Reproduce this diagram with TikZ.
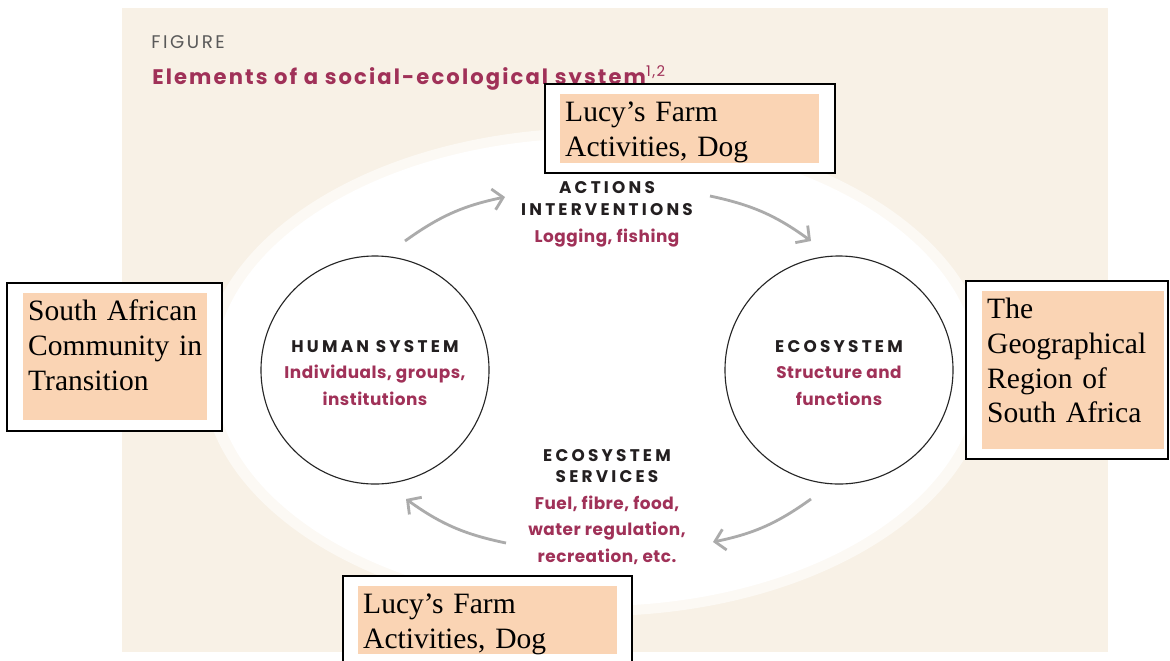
\documentclass[tikz,border=0pt]{standalone}
\usepackage{fontspec}
\setmainfont{Liberation Serif}
\newfontfamily\labelfont[LetterSpace=3]{Poppins}
\newfontfamily\capsfont[LetterSpace=19]{Poppins}
\newfontfamily\titlefont[LetterSpace=10]{Poppins}
\newfontfamily\tagfont[LetterSpace=14]{Poppins}
\usetikzlibrary{arrows.meta,positioning}

\definecolor{paper}{HTML}{F8F1E6}
\definecolor{wine}{HTML}{A03158}
\definecolor{ink}{HTML}{231F20}
\definecolor{peach}{HTML}{FAD4B4}
\definecolor{flowgray}{HTML}{ABABAB}

\newcommand{\cyclehead}[1]{\textcolor{ink}{\capsfont #1}}

\begin{document}
\begin{tikzpicture}[x=0.025cm, y=-0.025cm,
  system/.style={draw=black!85, circle, line width=0.8pt, minimum size=5.7cm},
  cycletext/.style={anchor=base, align=center, text=wine, font=\labelfont\bfseries\fontsize{12}{18.5}\selectfont},
  note/.style={fill=peach, anchor=north west, align=left, inner xsep=3.5pt, inner ysep=0pt, text height=19.2pt, font=\fontsize{21}{24.8}\selectfont},
  noteframe/.style={draw=black, fill=white, line width=1.4pt},
  flow/.style={draw=flowgray, line width=2pt, -{Straight Barb[length=7pt, width=15pt]}, bend left=12}]

  \clip (0,0) rectangle (1170,660);

  % Background
  \fill[paper] (122,8) rectangle (1108,652);
  \fill[white!55!paper] (596,372) ellipse [x radius=9.85cm, y radius=6.1cm];
  \fill[white] (596,372) ellipse [x radius=9.55cm, y radius=5.85cm];

  % Heading
  \node[anchor=base west, inner sep=0pt, text=black!65, font=\tagfont\fontsize{13}{15}\selectfont] (figtag) at (151,48) {FIGURE};
  \node[anchor=base west, inner sep=0pt, text=wine, font=\titlefont\bfseries\fontsize{15}{18}\selectfont] (title) at (152,84) {Elements of a social-ecological system\textsuperscript{\mdseries 1,2}};

  % Systems
  \node[system] (human) at (375,370) {};
  \node[system] (eco) at (839,370) {};
  \node[cycletext] (humantext) at (375,405) {\cyclehead{HUMAN SYSTEM}\\Individuals, groups,\\institutions};
  \node[cycletext] (ecotext) at (839,405) {\cyclehead{ECOSYSTEM}\\Structure and\\functions};

  % Flows
  \node[cycletext] (actions) at (607,242) {\cyclehead{ACTIONS}\\[-2.2pt]\cyclehead{INTERVENTIONS}\\Logging, fishing};
  \node[cycletext] (services) at (607,562) {\cyclehead{ECOSYSTEM}\\[-3.5pt]\cyclehead{SERVICES}\\[1pt]Fuel, fibre, food,\\water regulation,\\recreation, etc.};

  % Arrows
  \coordinate (A1) at (405,241);
  \coordinate (A2) at (505,197);
  \coordinate (A3) at (710,196);
  \coordinate (A4) at (811,241);
  \coordinate (B1) at (811,499);
  \coordinate (B2) at (713,542);
  \coordinate (B3) at (506,543);
  \coordinate (B4) at (406,499);
  \draw[flow] (A1) to (A2);
  \draw[flow] (A3) to (A4);
  \draw[flow] (B1) to (B2);
  \draw[flow] (B3) to (B4);

  % Note boxes
  \draw[noteframe] (545,84) rectangle (835,173);
  \node[note, text width=177.2pt, text depth=29.9pt] (farmtop) at (560,94) {Lucy’s Farm\\Activities, Dog};
  \draw[noteframe] (7,283) rectangle (222,431);
  \node[note, text width=123.9pt, text depth=71.1pt] (community) at (23,293) {South African\\Community in\\Transition};
  \draw[noteframe] (966,281) rectangle (1168,459);
  \node[note, text width=122.5pt, text depth=93.2pt] (region) at (982,291) {The\\Geographical\\Region of\\South Africa};
  \draw[noteframe] (343,576) rectangle (632,675);
  \node[note, text width=177.2pt, text depth=29.2pt] (farmbottom) at (358,586) {Lucy’s Farm\\Activities, Dog};

\end{tikzpicture}
\end{document}
